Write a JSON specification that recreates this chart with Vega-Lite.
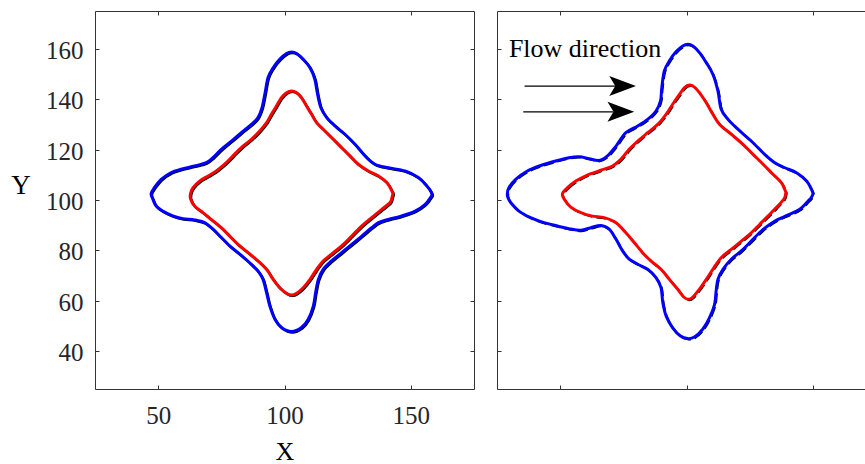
{
"$schema": "https://vega.github.io/schema/vega-lite/v6.json",
"padding": {"left": 10, "top": 10, "right": 0, "bottom": 0},
"background": "white",
"config": {
  "view": {"stroke": null},
  "concat": {"spacing": 21},
  "axis": {"grid": false, "labelFont": "Liberation Serif", "titleFont": "Liberation Serif", "labelFontSize": 25, "titleFontSize": 26, "titleFontWeight": "normal", "labelColor": "#262626", "titleColor": "#000000", "domainColor": "#333333", "tickColor": "#333333", "tickSize": -4, "domainWidth": 1, "tickWidth": 1}
},
"datasets": {
  "curves": [
{"p":"L","c":"o","i":1,"x":47.2,"y":102.5},{"p":"L","c":"o","i":2,"x":48.5,"y":104.9},{"p":"L","c":"o","i":3,"x":51.2,"y":108.2},{"p":"L","c":"o","i":4,"x":55.2,"y":110.9},{"p":"L","c":"o","i":5,"x":59.1,"y":112.2},{"p":"L","c":"o","i":6,"x":64.4,"y":113.5},{"p":"L","c":"o","i":7,"x":69.0,"y":114.8},{"p":"L","c":"o","i":8,"x":71.7,"y":116.8},{"p":"L","c":"o","i":9,"x":75.0,"y":120.1},{"p":"L","c":"o","i":10,"x":79.0,"y":123.4},{"p":"L","c":"o","i":11,"x":82.9,"y":126.7},{"p":"L","c":"o","i":12,"x":86.9,"y":130.0},{"p":"L","c":"o","i":13,"x":89.5,"y":132.7},{"p":"L","c":"o","i":14,"x":91.1,"y":136.6},{"p":"L","c":"o","i":15,"x":92.2,"y":141.9},{"p":"L","c":"o","i":16,"x":93.5,"y":148.6},{"p":"L","c":"o","i":17,"x":95.5,"y":152.5},{"p":"L","c":"o","i":18,"x":98.1,"y":155.8},{"p":"L","c":"o","i":19,"x":100.8,"y":158.1},{"p":"L","c":"o","i":20,"x":102.8,"y":158.7},{"p":"L","c":"o","i":21,"x":104.8,"y":158.1},{"p":"L","c":"o","i":22,"x":107.4,"y":155.8},{"p":"L","c":"o","i":23,"x":110.1,"y":152.5},{"p":"L","c":"o","i":24,"x":112.0,"y":147.9},{"p":"L","c":"o","i":25,"x":113.1,"y":141.9},{"p":"L","c":"o","i":26,"x":114.4,"y":136.6},{"p":"L","c":"o","i":27,"x":116.7,"y":132.7},{"p":"L","c":"o","i":28,"x":120.0,"y":129.4},{"p":"L","c":"o","i":29,"x":123.9,"y":126.1},{"p":"L","c":"o","i":30,"x":127.9,"y":122.1},{"p":"L","c":"o","i":31,"x":131.9,"y":117.5},{"p":"L","c":"o","i":32,"x":135.8,"y":114.2},{"p":"L","c":"o","i":33,"x":141.1,"y":112.8},{"p":"L","c":"o","i":34,"x":147.7,"y":111.5},{"p":"L","c":"o","i":35,"x":153.0,"y":108.9},{"p":"L","c":"o","i":36,"x":156.3,"y":105.6},{"p":"L","c":"o","i":37,"x":158.3,"y":102.5},{"p":"L","c":"o","i":38,"x":157.7,"y":100.9},{"p":"L","c":"o","i":39,"x":155.7,"y":98.3},{"p":"L","c":"o","i":40,"x":151.7,"y":95.6},{"p":"L","c":"o","i":41,"x":146.4,"y":93.7},{"p":"L","c":"o","i":42,"x":141.1,"y":92.3},{"p":"L","c":"o","i":43,"x":137.2,"y":91.0},{"p":"L","c":"o","i":44,"x":134.5,"y":89.0},{"p":"L","c":"o","i":45,"x":130.6,"y":85.7},{"p":"L","c":"o","i":46,"x":126.6,"y":82.4},{"p":"L","c":"o","i":47,"x":122.6,"y":79.1},{"p":"L","c":"o","i":48,"x":118.6,"y":75.8},{"p":"L","c":"o","i":49,"x":115.3,"y":72.5},{"p":"L","c":"o","i":50,"x":113.4,"y":68.5},{"p":"L","c":"o","i":51,"x":112.3,"y":63.2},{"p":"L","c":"o","i":52,"x":111.4,"y":57.9},{"p":"L","c":"o","i":53,"x":109.4,"y":52.7},{"p":"L","c":"o","i":54,"x":106.7,"y":49.4},{"p":"L","c":"o","i":55,"x":102.8,"y":47.8},{"p":"L","c":"o","i":56,"x":98.8,"y":49.4},{"p":"L","c":"o","i":57,"x":96.2,"y":52.7},{"p":"L","c":"o","i":58,"x":94.2,"y":57.9},{"p":"L","c":"o","i":59,"x":92.9,"y":63.2},{"p":"L","c":"o","i":60,"x":91.5,"y":68.5},{"p":"L","c":"o","i":61,"x":89.5,"y":71.8},{"p":"L","c":"o","i":62,"x":86.2,"y":75.1},{"p":"L","c":"o","i":63,"x":82.3,"y":78.5},{"p":"L","c":"o","i":64,"x":78.3,"y":81.8},{"p":"L","c":"o","i":65,"x":75.0,"y":85.1},{"p":"L","c":"o","i":66,"x":71.7,"y":88.4},{"p":"L","c":"o","i":67,"x":68.4,"y":91.0},{"p":"L","c":"o","i":68,"x":64.4,"y":92.1},{"p":"L","c":"o","i":69,"x":59.8,"y":92.6},{"p":"L","c":"o","i":70,"x":55.8,"y":93.7},{"p":"L","c":"o","i":71,"x":51.8,"y":95.6},{"p":"L","c":"o","i":72,"x":49.2,"y":97.6},{"p":"L","c":"o","i":73,"x":47.9,"y":100.3},
{"p":"L","c":"i","i":1,"x":62.8,"y":102.5},{"p":"L","c":"i","i":2,"x":63.8,"y":104.9},{"p":"L","c":"i","i":3,"x":66.4,"y":107.5},{"p":"L","c":"i","i":4,"x":69.7,"y":109.5},{"p":"L","c":"i","i":5,"x":73.0,"y":111.5},{"p":"L","c":"i","i":6,"x":76.3,"y":114.2},{"p":"L","c":"i","i":7,"x":79.6,"y":117.5},{"p":"L","c":"i","i":8,"x":82.9,"y":120.8},{"p":"L","c":"i","i":9,"x":86.9,"y":124.1},{"p":"L","c":"i","i":10,"x":90.2,"y":127.4},{"p":"L","c":"i","i":11,"x":92.9,"y":130.7},{"p":"L","c":"i","i":12,"x":94.8,"y":134.0},{"p":"L","c":"i","i":13,"x":96.8,"y":137.3},{"p":"L","c":"i","i":14,"x":98.8,"y":140.6},{"p":"L","c":"i","i":15,"x":100.8,"y":142.6},{"p":"L","c":"i","i":16,"x":102.8,"y":143.3},{"p":"L","c":"i","i":17,"x":104.8,"y":142.6},{"p":"L","c":"i","i":18,"x":106.7,"y":140.6},{"p":"L","c":"i","i":19,"x":108.7,"y":137.3},{"p":"L","c":"i","i":20,"x":110.7,"y":134.0},{"p":"L","c":"i","i":21,"x":112.7,"y":130.7},{"p":"L","c":"i","i":22,"x":116.0,"y":127.4},{"p":"L","c":"i","i":23,"x":119.3,"y":124.1},{"p":"L","c":"i","i":24,"x":122.6,"y":120.8},{"p":"L","c":"i","i":25,"x":125.9,"y":117.5},{"p":"L","c":"i","i":26,"x":129.2,"y":114.2},{"p":"L","c":"i","i":27,"x":133.2,"y":111.5},{"p":"L","c":"i","i":28,"x":137.2,"y":109.5},{"p":"L","c":"i","i":29,"x":140.5,"y":106.9},{"p":"L","c":"i","i":30,"x":142.5,"y":103.6},{"p":"L","c":"i","i":31,"x":142.9,"y":102.5},{"p":"L","c":"i","i":32,"x":142.6,"y":101.3},{"p":"L","c":"i","i":33,"x":141.8,"y":99.0},{"p":"L","c":"i","i":34,"x":138.5,"y":96.3},{"p":"L","c":"i","i":35,"x":134.5,"y":93.0},{"p":"L","c":"i","i":36,"x":130.6,"y":89.7},{"p":"L","c":"i","i":37,"x":126.6,"y":85.7},{"p":"L","c":"i","i":38,"x":122.6,"y":81.8},{"p":"L","c":"i","i":39,"x":118.6,"y":78.5},{"p":"L","c":"i","i":40,"x":115.3,"y":75.8},{"p":"L","c":"i","i":41,"x":112.7,"y":72.5},{"p":"L","c":"i","i":42,"x":110.1,"y":68.5},{"p":"L","c":"i","i":43,"x":107.4,"y":65.2},{"p":"L","c":"i","i":44,"x":104.8,"y":63.0},{"p":"L","c":"i","i":45,"x":102.8,"y":62.3},{"p":"L","c":"i","i":46,"x":100.8,"y":63.0},{"p":"L","c":"i","i":47,"x":98.1,"y":65.2},{"p":"L","c":"i","i":48,"x":95.5,"y":68.5},{"p":"L","c":"i","i":49,"x":92.9,"y":72.5},{"p":"L","c":"i","i":50,"x":89.5,"y":75.8},{"p":"L","c":"i","i":51,"x":85.6,"y":79.1},{"p":"L","c":"i","i":52,"x":81.6,"y":82.4},{"p":"L","c":"i","i":53,"x":78.3,"y":85.7},{"p":"L","c":"i","i":54,"x":75.0,"y":89.0},{"p":"L","c":"i","i":55,"x":71.0,"y":92.3},{"p":"L","c":"i","i":56,"x":67.7,"y":95.0},{"p":"L","c":"i","i":57,"x":64.4,"y":97.6},{"p":"L","c":"i","i":58,"x":62.8,"y":100.5},
{"p":"R","c":"o","i":1,"x":29.1,"y":102.5},{"p":"R","c":"o","i":2,"x":29.7,"y":104.9},{"p":"R","c":"o","i":3,"x":32.4,"y":108.2},{"p":"R","c":"o","i":4,"x":37.0,"y":111.5},{"p":"R","c":"o","i":5,"x":42.3,"y":113.7},{"p":"R","c":"o","i":6,"x":48.2,"y":115.5},{"p":"R","c":"o","i":7,"x":53.5,"y":116.8},{"p":"R","c":"o","i":8,"x":57.5,"y":117.2},{"p":"R","c":"o","i":9,"x":61.5,"y":116.4},{"p":"R","c":"o","i":10,"x":65.4,"y":115.7},{"p":"R","c":"o","i":11,"x":68.7,"y":117.5},{"p":"R","c":"o","i":12,"x":72.1,"y":121.4},{"p":"R","c":"o","i":13,"x":76.0,"y":126.7},{"p":"R","c":"o","i":14,"x":80.7,"y":129.4},{"p":"R","c":"o","i":15,"x":84.6,"y":132.0},{"p":"R","c":"o","i":16,"x":87.9,"y":135.3},{"p":"R","c":"o","i":17,"x":89.7,"y":139.3},{"p":"R","c":"o","i":18,"x":90.2,"y":144.6},{"p":"R","c":"o","i":19,"x":91.2,"y":151.2},{"p":"R","c":"o","i":20,"x":93.2,"y":155.2},{"p":"R","c":"o","i":21,"x":95.9,"y":158.9},{"p":"R","c":"o","i":22,"x":98.5,"y":161.1},{"p":"R","c":"o","i":23,"x":100.5,"y":161.8},{"p":"R","c":"o","i":24,"x":102.5,"y":161.1},{"p":"R","c":"o","i":25,"x":105.1,"y":158.5},{"p":"R","c":"o","i":26,"x":107.8,"y":154.5},{"p":"R","c":"o","i":27,"x":110.4,"y":149.9},{"p":"R","c":"o","i":28,"x":112.4,"y":143.3},{"p":"R","c":"o","i":29,"x":113.7,"y":136.0},{"p":"R","c":"o","i":30,"x":116.4,"y":132.0},{"p":"R","c":"o","i":31,"x":120.3,"y":128.1},{"p":"R","c":"o","i":32,"x":125.6,"y":123.4},{"p":"R","c":"o","i":33,"x":130.9,"y":118.1},{"p":"R","c":"o","i":34,"x":134.9,"y":114.8},{"p":"R","c":"o","i":35,"x":138.9,"y":112.8},{"p":"R","c":"o","i":36,"x":143.5,"y":110.8},{"p":"R","c":"o","i":37,"x":147.5,"y":107.5},{"p":"R","c":"o","i":38,"x":149.4,"y":104.2},{"p":"R","c":"o","i":39,"x":150.0,"y":102.5},{"p":"R","c":"o","i":40,"x":149.3,"y":100.9},{"p":"R","c":"o","i":41,"x":148.1,"y":99.6},{"p":"R","c":"o","i":42,"x":144.8,"y":96.3},{"p":"R","c":"o","i":43,"x":140.2,"y":94.1},{"p":"R","c":"o","i":44,"x":136.2,"y":92.3},{"p":"R","c":"o","i":45,"x":132.9,"y":90.3},{"p":"R","c":"o","i":46,"x":129.6,"y":87.7},{"p":"R","c":"o","i":47,"x":125.6,"y":83.7},{"p":"R","c":"o","i":48,"x":121.7,"y":79.8},{"p":"R","c":"o","i":49,"x":117.7,"y":76.5},{"p":"R","c":"o","i":50,"x":114.4,"y":72.5},{"p":"R","c":"o","i":51,"x":112.4,"y":68.5},{"p":"R","c":"o","i":52,"x":111.7,"y":63.9},{"p":"R","c":"o","i":53,"x":111.1,"y":58.6},{"p":"R","c":"o","i":54,"x":109.1,"y":53.3},{"p":"R","c":"o","i":55,"x":106.4,"y":48.7},{"p":"R","c":"o","i":56,"x":103.1,"y":45.6},{"p":"R","c":"o","i":57,"x":100.5,"y":45.0},{"p":"R","c":"o","i":58,"x":97.6,"y":46.0},{"p":"R","c":"o","i":59,"x":94.5,"y":49.3},{"p":"R","c":"o","i":60,"x":91.9,"y":54.0},{"p":"R","c":"o","i":61,"x":90.6,"y":59.3},{"p":"R","c":"o","i":62,"x":89.9,"y":65.2},{"p":"R","c":"o","i":63,"x":87.9,"y":69.2},{"p":"R","c":"o","i":64,"x":84.6,"y":72.5},{"p":"R","c":"o","i":65,"x":80.7,"y":74.5},{"p":"R","c":"o","i":66,"x":77.3,"y":76.5},{"p":"R","c":"o","i":67,"x":74.7,"y":79.8},{"p":"R","c":"o","i":68,"x":72.1,"y":84.4},{"p":"R","c":"o","i":69,"x":69.4,"y":88.4},{"p":"R","c":"o","i":70,"x":66.1,"y":89.9},{"p":"R","c":"o","i":71,"x":62.1,"y":89.0},{"p":"R","c":"o","i":72,"x":58.2,"y":88.0},{"p":"R","c":"o","i":73,"x":53.5,"y":88.6},{"p":"R","c":"o","i":74,"x":48.9,"y":89.7},{"p":"R","c":"o","i":75,"x":43.6,"y":91.0},{"p":"R","c":"o","i":76,"x":38.3,"y":93.0},{"p":"R","c":"o","i":77,"x":33.7,"y":95.6},{"p":"R","c":"o","i":78,"x":30.4,"y":99.0},{"p":"R","c":"o","i":79,"x":29.3,"y":101.0},
{"p":"R","c":"i","i":1,"x":50.9,"y":102.5},{"p":"R","c":"i","i":2,"x":52.9,"y":104.9},{"p":"R","c":"i","i":3,"x":56.2,"y":107.5},{"p":"R","c":"i","i":4,"x":60.8,"y":109.9},{"p":"R","c":"i","i":5,"x":66.1,"y":111.8},{"p":"R","c":"i","i":6,"x":70.7,"y":113.5},{"p":"R","c":"i","i":7,"x":74.0,"y":116.1},{"p":"R","c":"i","i":8,"x":77.3,"y":120.1},{"p":"R","c":"i","i":9,"x":80.7,"y":123.4},{"p":"R","c":"i","i":10,"x":84.6,"y":126.7},{"p":"R","c":"i","i":11,"x":88.6,"y":130.0},{"p":"R","c":"i","i":12,"x":91.9,"y":134.0},{"p":"R","c":"i","i":13,"x":94.5,"y":138.0},{"p":"R","c":"i","i":14,"x":97.2,"y":141.9},{"p":"R","c":"i","i":15,"x":99.2,"y":144.6},{"p":"R","c":"i","i":16,"x":101.2,"y":145.6},{"p":"R","c":"i","i":17,"x":103.1,"y":144.8},{"p":"R","c":"i","i":18,"x":105.1,"y":142.6},{"p":"R","c":"i","i":19,"x":107.8,"y":138.6},{"p":"R","c":"i","i":20,"x":110.4,"y":134.0},{"p":"R","c":"i","i":21,"x":113.1,"y":130.0},{"p":"R","c":"i","i":22,"x":117.7,"y":126.1},{"p":"R","c":"i","i":23,"x":122.3,"y":122.1},{"p":"R","c":"i","i":24,"x":126.3,"y":118.1},{"p":"R","c":"i","i":25,"x":130.3,"y":114.2},{"p":"R","c":"i","i":26,"x":134.2,"y":110.2},{"p":"R","c":"i","i":27,"x":137.5,"y":106.9},{"p":"R","c":"i","i":28,"x":139.1,"y":103.6},{"p":"R","c":"i","i":29,"x":139.2,"y":102.5},{"p":"R","c":"i","i":30,"x":138.6,"y":100.5},{"p":"R","c":"i","i":31,"x":135.5,"y":97.0},{"p":"R","c":"i","i":32,"x":132.2,"y":93.6},{"p":"R","c":"i","i":33,"x":128.9,"y":90.3},{"p":"R","c":"i","i":34,"x":125.6,"y":87.0},{"p":"R","c":"i","i":35,"x":121.7,"y":83.7},{"p":"R","c":"i","i":36,"x":117.7,"y":80.4},{"p":"R","c":"i","i":37,"x":113.7,"y":77.1},{"p":"R","c":"i","i":38,"x":110.4,"y":72.5},{"p":"R","c":"i","i":39,"x":107.8,"y":68.5},{"p":"R","c":"i","i":40,"x":105.1,"y":64.6},{"p":"R","c":"i","i":41,"x":102.5,"y":61.5},{"p":"R","c":"i","i":42,"x":100.8,"y":60.6},{"p":"R","c":"i","i":43,"x":98.9,"y":61.5},{"p":"R","c":"i","i":44,"x":96.5,"y":64.6},{"p":"R","c":"i","i":45,"x":93.2,"y":68.5},{"p":"R","c":"i","i":46,"x":89.9,"y":72.5},{"p":"R","c":"i","i":47,"x":85.9,"y":75.8},{"p":"R","c":"i","i":48,"x":82.6,"y":79.1},{"p":"R","c":"i","i":49,"x":79.3,"y":83.1},{"p":"R","c":"i","i":50,"x":76.0,"y":87.0},{"p":"R","c":"i","i":51,"x":72.1,"y":91.0},{"p":"R","c":"i","i":52,"x":67.4,"y":93.0},{"p":"R","c":"i","i":53,"x":62.8,"y":93.6},{"p":"R","c":"i","i":54,"x":58.2,"y":95.0},{"p":"R","c":"i","i":55,"x":54.2,"y":97.2},{"p":"R","c":"i","i":56,"x":51.6,"y":100.3}
  ],
  "arrows": [{"x1":35.9,"x2":72.0,"y":145.2},{"x1":35.4,"x2":71.0,"y":135.0}],
  "heads": [{"x":74.7,"y":145.2},{"x":74.0,"y":135.0}],
  "notes": [{"x":29.7,"y":156.7,"t":"Flow direction"}]
},
"hconcat": [
  {
    "width": 379, "height": 378,
    "data": {"name": "curves"},
    "transform": [{"filter": "datum.p == 'L'"}],
    "layer": [
      {
        "mark": {"type": "line", "interpolate": "cardinal-closed", "color": "black", "strokeWidth": 2.4, "xOffset": 0.9, "yOffset": 0.9},
        "encoding": {
          "x": {"field": "x", "type": "quantitative", "scale": {"domain": [25, 175], "nice": false, "zero": false}, "axis": {"values": [50, 100, 150], "title": "X", "labelPadding": 18, "titleY": 62, "titleBaseline": "middle"}},
          "y": {"field": "y", "type": "quantitative", "scale": {"domain": [25, 175], "nice": false, "zero": false}, "axis": {"values": [40, 60, 80, 100, 120, 140, 160], "title": "Y", "labelPadding": 16, "labelOffset": 1.5, "titleAngle": 0, "titleX": -74.5, "titleY": 174, "titleAlign": "center", "titleBaseline": "middle", "titleFontSize": 27}},
          "detail": {"field": "c"},
          "order": {"field": "i"}
        }
      },
      {
        "mark": {"type": "line", "interpolate": "cardinal-closed", "strokeWidth": 3},
        "encoding": {
          "x": {"field": "x", "type": "quantitative", "scale": {"domain": [25, 175], "nice": false, "zero": false}, "axis": {"orient": "top", "values": [50, 100, 150], "labels": false, "title": null}},
          "y": {"field": "y", "type": "quantitative", "scale": {"domain": [25, 175], "nice": false, "zero": false}, "axis": {"orient": "right", "values": [40, 60, 80, 100, 120, 140, 160], "labels": false, "title": null}},
          "color": {"field": "c", "type": "nominal", "scale": {"domain": ["o", "i"], "range": ["#0000ff", "#ff0000"]}, "legend": null},
          "order": {"field": "i"}
        }
      }
    ],
    "resolve": {"axis": {"x": "independent", "y": "independent"}}
  },
  {
    "width": 369, "height": 378,
    "data": {"name": "curves"},
    "transform": [{"filter": "datum.p == 'R'"}],
    "layer": [
      {
        "mark": {"type": "line", "interpolate": "cardinal-closed", "color": "black", "strokeWidth": 2, "strokeDash": [10, 4], "xOffset": 0.9, "yOffset": 0.9},
        "encoding": {
          "x": {"field": "x", "type": "quantitative", "scale": {"domain": [25, 171], "nice": false, "zero": false}, "axis": {"values": [50, 100, 150], "labels": false, "title": null}},
          "y": {"field": "y", "type": "quantitative", "scale": {"domain": [25, 175], "nice": false, "zero": false}, "axis": {"values": [40, 60, 80, 100, 120, 140, 160], "labels": false, "title": null}},
          "detail": {"field": "c"},
          "order": {"field": "i"}
        }
      },
      {
        "mark": {"type": "line", "interpolate": "cardinal-closed", "strokeWidth": 3},
        "encoding": {
          "x": {"field": "x", "type": "quantitative", "scale": {"domain": [25, 171], "nice": false, "zero": false}, "axis": {"orient": "top", "values": [50, 100, 150], "labels": false, "title": null}},
          "y": {"field": "y", "type": "quantitative", "scale": {"domain": [25, 175], "nice": false, "zero": false}, "axis": null},
          "color": {"field": "c", "type": "nominal", "scale": {"domain": ["o", "i"], "range": ["#0000ff", "#ff0000"]}, "legend": null},
          "order": {"field": "i"}
        }
      },
      {
        "data": {"name": "arrows"},
        "mark": {"type": "rule", "color": "black", "strokeWidth": 1.2},
        "encoding": {
          "x": {"field": "x1", "type": "quantitative", "scale": {"domain": [25, 171], "nice": false, "zero": false}, "axis": null},
          "x2": {"field": "x2"},
          "y": {"field": "y", "type": "quantitative", "scale": {"domain": [25, 175], "nice": false, "zero": false}, "axis": null}
        }
      },
      {
        "data": {"name": "heads"},
        "mark": {"type": "point", "shape": "M -1 -0.75 L 1 0 L -1 0.75 L -0.55 0 Z", "filled": true, "color": "black", "opacity": 1, "size": 713, "strokeWidth": 0},
        "encoding": {
          "x": {"field": "x", "type": "quantitative", "scale": {"domain": [25, 171], "nice": false, "zero": false}, "axis": null},
          "y": {"field": "y", "type": "quantitative", "scale": {"domain": [25, 175], "nice": false, "zero": false}, "axis": null}
        }
      },
      {
        "data": {"name": "notes"},
        "mark": {"type": "text", "align": "left", "baseline": "alphabetic", "font": "Liberation Serif", "fontSize": 26, "color": "black"},
        "encoding": {
          "x": {"field": "x", "type": "quantitative", "scale": {"domain": [25, 171], "nice": false, "zero": false}, "axis": null},
          "y": {"field": "y", "type": "quantitative", "scale": {"domain": [25, 175], "nice": false, "zero": false}, "axis": null},
          "text": {"field": "t"}
        }
      }
    ],
    "resolve": {"axis": {"x": "independent", "y": "independent"}}
  }
]
}
